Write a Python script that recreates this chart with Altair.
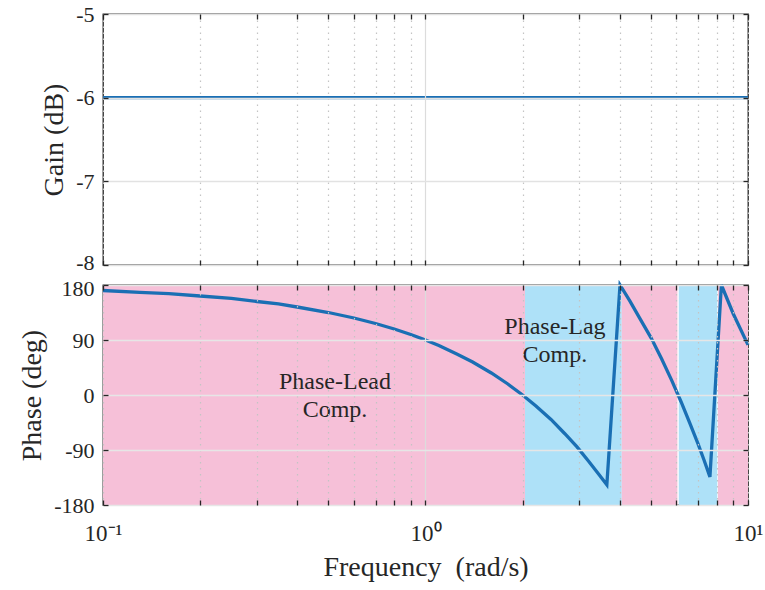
import altair as alt
import pandas as pd

# Tick positions on the logarithmic frequency axis (decades and their multiples)
freq_ticks = [0.1, 0.2, 0.3, 0.4, 0.5, 0.6, 0.7, 0.8, 0.9,
              1, 2, 3, 4, 5, 6, 7, 8, 9, 10]

# Gain response (dB)
gain_freq = [0.1, 10.0]
gain_db = [-6.0, -6.0]

# Phase response (deg)
phase_freq = [0.1, 0.13, 0.16, 0.2, 0.25, 0.3, 0.35, 0.4, 0.5, 0.6, 0.7, 0.8,
              0.9, 1.0, 1.1, 1.25, 1.4, 1.6, 1.8, 2.0, 2.2, 2.45, 2.7, 2.95,
              3.2, 3.45, 3.65, 4.01, 4.3, 4.6, 5.0, 5.4, 5.8, 6.2, 6.6, 7.0,
              7.3, 7.62, 8.27, 9.0, 10.0]
phase_deg = [171, 168, 166, 162, 158, 153, 149, 144, 135, 126, 117, 108,
             99, 90, 81, 67, 54, 36, 18, 0, -18, -40, -63, -85,
             -108, -130, -147, 180, 154, 127, 94, 59, 24, -11, -46, -80,
             -106, -134, 180, 133, 82]

# Compensation bands along the frequency axis
band_start = [0.1, 2.035, 4.06, 6.1, 8.07]
band_end = [2.035, 4.06, 6.04, 8.03, 10.0]
band_kind = ["Phase-Lead", "Phase-Lag", "Phase-Lead", "Phase-Lag", "Phase-Lead"]
band_kinds = ["Phase-Lead", "Phase-Lag"]
band_colors = ["#F6C0D8", "#AEE1F8"]

# Band annotations (position of the first text line)
note_text = [["Phase-Lead", "Comp."], ["Phase-Lag", "Comp."]]
note_freq = [0.524, 2.52]
note_phase = [21, 111]

gain_df = pd.DataFrame({"freq": gain_freq, "gain": gain_db})
phase_df = pd.DataFrame({"freq": phase_freq, "phase": phase_deg})
band_df = pd.DataFrame({"start": band_start, "end": band_end, "kind": band_kind})
note_df = pd.DataFrame({"text": note_text, "freq": note_freq, "phase": note_phase})

FONT = "Liberation Serif"
INK = "#262626"
LINE = "#1A6FB4"
W = 645

xscale = alt.Scale(type="log", domain=[0.1, 10], nice=False)
grid_dash = {"condition": {"test": "datum.value == 1", "value": []}, "value": [1.5, 4.5]}
grid_color = {"condition": {"test": "datum.value == 1", "value": "#DCDCDC"}, "value": "#C4C4C4"}
x_labels = ("datum.value < 0.15 ? '10\u207b\u00b9' : datum.value == 1 ? '10\u2070' : "
            "datum.value > 9.5 ? '10\u00b9' : ''")


def x_axis(orient, labels=False, title=None, grid=False):
    kw = dict(orient=orient, values=freq_ticks, domain=False, tickSize=5, offset=-5,
              tickColor=INK, tickWidth=1.3, labels=labels, grid=grid, zindex=1,
              title=title)
    if labels:
        kw.update(labelExpr=x_labels, labelFlush=False, labelOverlap=False,
                  labelPadding=17, labelFontSize=23, titlePadding=8)
    if grid:
        kw.update(gridDash=grid_dash, gridColor=grid_color, gridWidth=1.2)
    return alt.Axis(**kw)


def y_axis(orient, values, labels=False, title=None, grid=False, grid_color="#E2E2E2",
           nudge=None):
    kw = dict(orient=orient, values=values, domain=False, tickSize=5, offset=-5,
              tickColor=INK, tickWidth=1.3, labels=labels, grid=grid, zindex=1,
              title=title)
    if labels:
        kw.update(labelExpr="'' + datum.value", labelPadding=9, labelFontSize=22,
                  titlePadding=7)
        if nudge is not None:
            # keep the labels at the panels' shared edge from touching
            kw.update(labelOffset={"condition": {"test": f"datum.value == {nudge[0]}",
                                                 "value": nudge[1]}, "value": 0})
    if grid:
        kw.update(gridColor=grid_color, gridWidth=1.3)
    return alt.Axis(**kw)


# ---- Gain panel ----
gain_y = alt.Scale(domain=[-8, -5], nice=False)
gain_vals = [-8, -7, -6, -5]
gain_line = alt.Chart(gain_df).mark_line(color=LINE, strokeWidth=3.3).encode(
    x=alt.X("freq:Q", scale=xscale, axis=x_axis("bottom", grid=True)),
    y=alt.Y("gain:Q", scale=gain_y, axis=y_axis("left", gain_vals, labels=True,
                                                 title="Gain (dB)", grid=True,
                                                 nudge=(-8, -3))),
)
gain_mirror = alt.Chart(gain_df).mark_line(opacity=0).encode(
    x=alt.X("freq:Q", scale=xscale, axis=x_axis("top")),
    y=alt.Y("gain:Q", scale=gain_y, axis=y_axis("right", gain_vals)),
)
gain_panel = alt.layer(gain_line, gain_mirror).resolve_axis(
    x="independent", y="independent"
).properties(width=W, height=251)

# ---- Phase panel ----
phase_y = alt.Scale(domain=[-180, 180], nice=False)
phase_vals = [-180, -90, 0, 90, 180]
bands = alt.Chart(band_df).mark_rect().encode(
    x=alt.X("start:Q", scale=xscale,
            axis=x_axis("bottom", labels=True, title="Frequency\u00a0\u00a0(rad/s)", grid=True)),
    x2="end:Q",
    color=alt.Color("kind:N", scale=alt.Scale(domain=band_kinds, range=band_colors),
                    legend=None),
)
phase_line = alt.Chart(phase_df).mark_line(color=LINE, strokeWidth=3.3).encode(
    x=alt.X("freq:Q", scale=xscale, axis=x_axis("top")),
    y=alt.Y("phase:Q", scale=phase_y,
            axis=y_axis("left", phase_vals, labels=True, title="Phase (deg)",
                        grid=True, grid_color="#E6E6E6", nudge=(180, 3))),
)
notes = alt.Chart(note_df).mark_text(
    font=FONT, fontSize=24, color=INK, lineHeight=28, baseline="middle", align="center"
).encode(
    x=alt.X("freq:Q", scale=xscale, axis=None),
    y=alt.Y("phase:Q", scale=phase_y, axis=y_axis("right", phase_vals)),
    text="text",
)
phase_panel = alt.layer(bands, phase_line, notes).resolve_axis(
    x="independent", y="independent"
).properties(width=W, height=220)

chart = alt.vconcat(
    gain_panel, phase_panel, spacing=2,
    padding={"left": 18, "top": 2, "right": 0, "bottom": 0},
).configure_view(
    stroke=INK, strokeWidth=1.3
).configure_axis(
    labelFont=FONT, titleFont=FONT, labelColor=INK, titleColor=INK,
    titleFontSize=28, titleFontWeight="normal",
)

chart.save("out.html", embed_options={"renderer": "svg", "actions": False})
